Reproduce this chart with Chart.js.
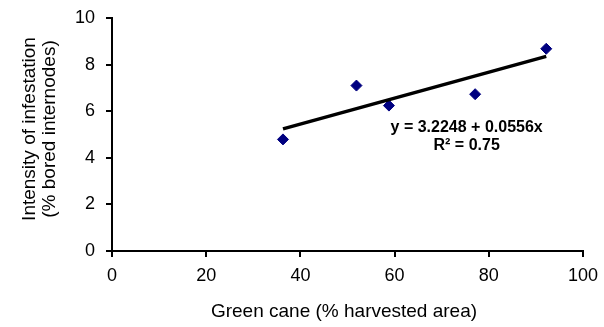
<!DOCTYPE html>
<html>
<head>
<meta charset="utf-8">
<script src="https://cdn.jsdelivr.net/npm/chart.js@4.4.1/dist/chart.umd.min.js"></script>
<style>
  html, body { margin: 0; padding: 0; background: #fff; }
  #wrap { width: 604px; height: 327px; }
</style>
</head>
<body>
<div id="wrap"><canvas id="chart" width="604" height="327"></canvas></div>
<script>
// Observed points (green cane % vs intensity of infestation %)
const greenCane = [36.3, 51.9, 58.8, 77.1, 92.2];
const infestation = [4.79, 7.10, 6.24, 6.73, 8.68];

// Regression shown on the chart
const fitIntercept = 3.2248;
const fitSlope = 0.0556;
const fitRange = [36.3, 92.2];
const fitLabel = ['y = 3.2248 + 0.0556x', 'R\u00b2 = 0.75'];

const xTicks = [0, 20, 40, 60, 80, 100];
const yTicks = [0, 2, 4, 6, 8, 10];

const xTitle = 'Green cane (% harvested area)';
const yTitle = ['Intensity of infestation', '(% bored internodes)'];

const fitLine = fitRange.map(x => ({ x, y: fitIntercept + fitSlope * x }));
const points = greenCane.map((x, i) => ({ x, y: infestation[i] }));

const FAMILY = '"Liberation Sans", Arial, sans-serif';

// Axis titles and the equation text
const labels = {
    id: 'labels',
    afterDraw(chart) {
        const { ctx, scales } = chart;
        ctx.save();
        ctx.fillStyle = '#000';
        ctx.textAlign = 'center';
        ctx.textBaseline = 'middle';

        ctx.font = `19px ${FAMILY}`;
        ctx.fillText(xTitle, 344, 312);

        ctx.save();
        ctx.translate(30, 129);
        ctx.rotate(-Math.PI / 2);
        ctx.fillText(yTitle[0], 0, 0);
        ctx.fillText(yTitle[1], 0, 20);
        ctx.restore();

        const cx = scales.x.getPixelForValue(75.3);
        const cy = scales.y.getPixelForValue(5.28);
        ctx.font = `bold 16px ${FAMILY}`;
        ctx.fillText(fitLabel[0], cx, cy);
        ctx.fillText(fitLabel[1], cx, cy + 18);
        ctx.restore();
    }
};

const tickFont = { family: FAMILY, size: 18 };

new Chart(document.getElementById('chart').getContext('2d'), {
    type: 'scatter',
    data: {
        datasets: [
            {
                label: 'Trend',
                type: 'line',
                data: fitLine,
                borderColor: '#000',
                borderWidth: 3.5,
                pointRadius: 0,
                fill: false
            },
            {
                label: 'Observed',
                data: points,
                pointStyle: 'rectRot',
                pointRadius: 5.5,
                pointBackgroundColor: '#000080',
                pointBorderColor: '#000080',
                pointBorderWidth: 1
            }
        ]
    },
    options: {
        responsive: false,
        animation: false,
        layout: { padding: { left: 0, right: 21, top: 18, bottom: 0 } },
        plugins: {
            legend: { display: false },
            tooltip: { enabled: false }
        },
        scales: {
            x: {
                type: 'linear',
                min: 0,
                max: 100,
                afterBuildTicks: s => { s.ticks = xTicks.map(v => ({ value: v })); },
                afterFit: s => { s.height = 76; s.paddingLeft = 0; s.paddingRight = 0; },
                grid: { drawOnChartArea: false, color: '#000', tickLength: 6, lineWidth: 2 },
                border: { color: '#000', width: 2 },
                ticks: { color: '#000', font: tickFont, padding: 8, maxRotation: 0 }
            },
            y: {
                type: 'linear',
                min: 0,
                max: 10,
                afterBuildTicks: s => { s.ticks = yTicks.map(v => ({ value: v })); },
                afterFit: s => { s.width = 112; s.paddingTop = 0; s.paddingBottom = 0; },
                grid: { drawOnChartArea: false, color: '#000', tickLength: 6, lineWidth: 2 },
                border: { color: '#000', width: 2 },
                ticks: { color: '#000', font: tickFont, padding: 11 }
            }
        }
    },
    plugins: [labels]
});
</script>
</body>
</html>
